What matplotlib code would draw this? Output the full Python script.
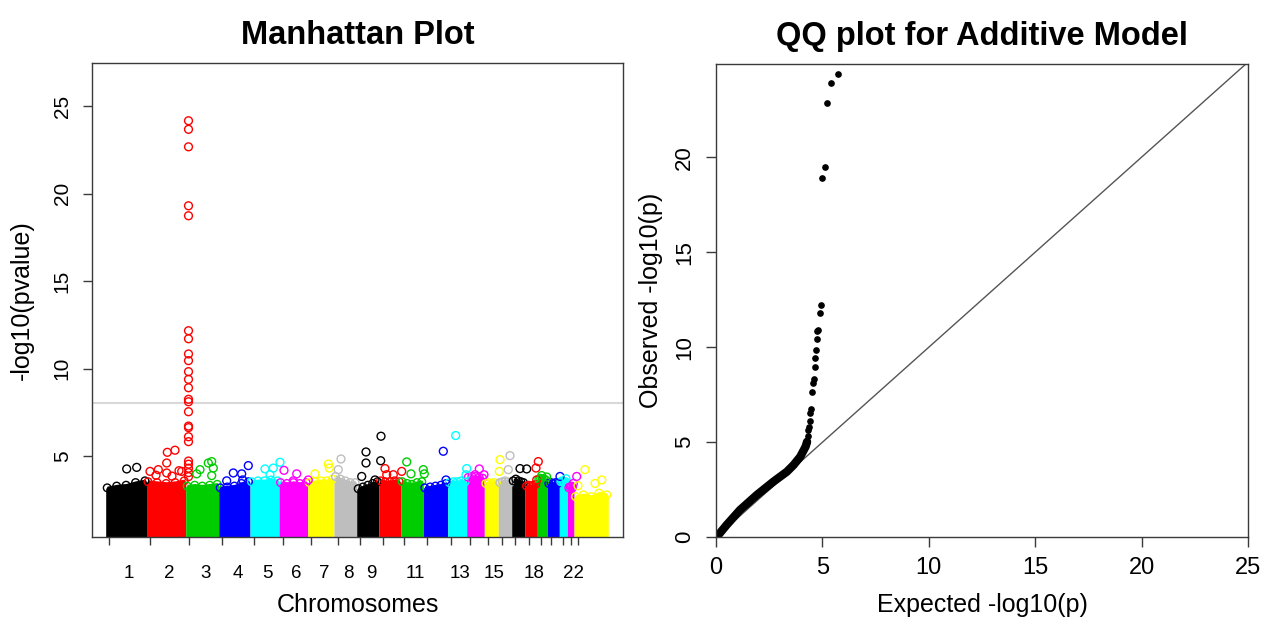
import numpy as np
import matplotlib
matplotlib.use("Agg")
import matplotlib.pyplot as plt

plt.rcParams['font.family'] = ['Liberation Sans', 'DejaVu Sans']

# ---- Manhattan data ----
chrom_names = [str(i) for i in range(1, 24)]
chrom_len = [40.8, 39.2, 33.0, 31.3, 29.0, 28.7, 26.3, 22.7, 22.3, 21.7, 22.6, 24.4,
             19.0, 17.6, 14.0, 13.4, 13.3, 12.3, 10.0, 12.0, 8.0, 6.7, 34.3]
lead_gap = 13.7
x_end = 531.0
shown_labels = ['1', '2', '3', '4', '5', '6', '7', '8', '9', '11', '13', '15', '18', '22']
r_palette = ['black', '#FF0000', '#00CD00', '#0000FF', '#00FFFF', '#FF00FF', '#FFFF00', '#BEBEBE']

# top of the dense band of points, sampled across each chromosome
band_top = [
    [3.28, 3.38, 3.43, 3.58, 3.68], [3.63, 3.58, 3.53, 3.58, 3.68], [3.38, 3.43, 3.38, 3.43, 3.48],
    [3.28, 3.33, 3.38, 3.53, 3.63], [3.63, 3.68, 3.68, 3.73, 3.68], [3.58, 3.53, 3.58, 3.53, 3.58],
    [3.58, 3.63, 3.68, 3.68, 3.78], [3.93, 3.78, 3.68, 3.58, 3.58], [3.23, 3.33, 3.43, 3.53, 3.63],
    [3.68, 3.63, 3.63, 3.68, 3.63], [3.63, 3.53, 3.48, 3.58, 3.63], [3.28, 3.33, 3.38, 3.43, 3.53],
    [3.58, 3.63, 3.63, 3.68, 3.63], [3.88, 3.93, 3.93, 3.88, 3.83], [3.53, 3.58, 3.53, 3.58, 3.53],
    [3.58, 3.63, 3.68, 3.63, 3.58], [3.68, 3.78, 3.68, 3.63, 3.58], [3.38, 3.43, 3.38, 3.43, 3.48],
    [3.78, 3.83, 3.78, 3.78, 3.73], [3.53, 3.58, 3.53, 3.58, 3.53], [3.63, 3.68, 3.63, 3.58, 3.63],
    [3.28, 3.38, 3.33, 3.38, 3.28], [2.78, 2.88, 2.78, 2.98, 2.88],
]

# isolated points above the band: chromosome, position on the genome axis, -log10(p)
out_chr = [1, 1,
           2, 2, 2, 2, 2, 2, 2, 2, 2, 2,
           2, 2, 2, 2, 2, 2, 2, 2, 2, 2, 2, 2, 2, 2, 2, 2, 2, 2, 2, 2, 2, 2, 2, 2,
           3, 3, 3, 3, 3, 3, 4, 4, 4, 4, 4, 5, 5, 5, 5, 6, 6, 6, 6, 7, 7, 7, 8, 8,
           9, 9, 9, 9, 9, 9, 10, 10, 10, 10, 11, 11, 11, 11, 12, 12, 13, 13, 13,
           14, 14, 14, 15, 15, 16, 16, 17, 17, 18, 18, 18, 19, 19, 20, 21, 22, 22,
           23, 23, 23, 23]
out_pos = [34.7, 44.7,
           58.0, 66.3, 74.7, 75.3, 83.0, 74.7, 87.0, 89.7, 64.0, 80.0,
           96.5, 96.5, 96.5, 96.5, 96.5, 96.5, 96.5, 96.5, 96.5, 96.5, 96.5, 96.5,
           96.5, 96.5, 96.5, 96.5, 96.5, 96.5, 96.5, 96.5, 96.5, 96.5, 96.5, 96.5,
           104.7, 108.0, 116.3, 119.7, 121.3, 119.7, 134.7, 141.3, 149.7, 156.3, 150.7,
           173.0, 181.3, 188.0, 178.0, 192.0, 204.7, 216.3, 201.3, 223.0, 236.3, 237.3,
           249.0, 246.3,
           269.7, 274.0, 274.0, 289.0, 288.7, 283.0, 293.0, 301.3, 309.7, 294.7,
           314.7, 319.0, 331.3, 332.3, 351.3, 354.0, 363.7, 374.7, 374.0,
           387.3, 392.0, 383.0, 408.0, 407.3, 418.0, 416.3, 428.0, 434.7,
           446.3, 444.0, 444.7, 449.7, 454.7, 468.0, 474.0, 484.7, 481.3,
           493.0, 509.7, 503.0, 486.0]
out_val = [4.26, 4.35,
           4.12, 4.22, 4.60, 5.21, 5.33, 4.03, 4.16, 4.12, 3.90, 3.85,
           24.16, 23.67, 22.67, 19.30, 18.73, 12.16, 11.70, 10.83, 10.45, 9.82, 9.38, 8.90,
           8.24, 8.10, 7.53, 6.71, 6.62, 6.10, 5.82, 4.71, 4.53, 4.30, 4.05, 3.82,
           3.98, 4.22, 4.60, 4.68, 4.31, 3.88, 3.58, 4.03, 3.98, 4.45, 3.63,
           4.26, 4.31, 4.64, 3.93, 4.18, 3.98, 3.63, 3.58, 3.98, 4.54, 4.31,
           4.83, 4.22,
           3.83, 4.60, 5.23, 6.13, 4.73, 3.63, 4.28, 3.93, 4.12, 3.93,
           4.66, 3.98, 4.22, 3.98, 5.27, 3.63, 6.17, 4.28, 3.93,
           4.26, 3.93, 3.93, 4.79, 4.12, 5.02, 4.22, 4.28, 4.26,
           4.68, 4.31, 3.63, 3.88, 3.80, 3.83, 3.70, 3.83, 3.43,
           4.22, 3.63, 3.43, 3.30]
threshold = 8.0

# ---- QQ data ----
qq_dense_exp = [0.0, 0.11, 0.50, 1.13, 1.92, 2.70, 3.33, 3.65, 3.96, 4.21, 4.28]
qq_dense_obs = [0.0, 0.12, 0.65, 1.44, 2.23, 2.93, 3.45, 3.81, 4.24, 4.77, 5.03]
qq_exp = [5.72, 5.41, 5.22, 5.11, 5.00, 4.92, 4.88, 4.78, 4.76, 4.75, 4.72, 4.67, 4.64,
          4.59, 4.56, 4.51, 4.47, 4.43, 4.40, 4.37, 4.34, 4.31, 4.28]
qq_obs = [24.38, 23.89, 22.87, 19.47, 18.89, 12.23, 11.79, 10.91, 10.86, 10.45, 9.86, 9.42,
          8.98, 8.32, 8.14, 7.66, 6.74, 6.56, 6.14, 5.82, 5.65, 5.33, 5.03]

W, H = 1267, 621
fig = plt.figure(figsize=(W / 100, H / 100), dpi=100)
ax1 = fig.add_axes([92 / W, 1 - 537 / H, 531 / W, 474 / H])
ax2 = fig.add_axes([716 / W, 1 - 537.3 / H, 532 / W, 473.3 / H])

edge = '#3a3a3a'

# Manhattan plot
starts = lead_gap + np.concatenate([[0], np.cumsum(chrom_len)[:-1]])
ends = starts + np.array(chrom_len)
for i, (s, e) in enumerate(zip(starts, ends)):
    col = r_palette[i % 8]
    xs = np.linspace(s + 1.5, e - 1.5, len(band_top[i]))
    ax1.fill_between(np.r_[s, xs, e], 0, np.r_[band_top[i][0] - 0.15, band_top[i], band_top[i][-1] - 0.15],
                     color=col, lw=0, zorder=2)
    ax1.scatter(xs, np.array(band_top[i]) - 0.1, s=30, facecolors='none', edgecolors=col,
                linewidths=1.0, zorder=3)

out_cols = [r_palette[(c - 1) % 8] for c in out_chr]
ax1.scatter(out_pos, out_val, s=32, facecolors='none', edgecolors=out_cols,
            linewidths=1.0, zorder=3)
ax1.axhline(threshold, color='#d8d8d8', lw=1.5, zorder=1)

ax1.set_xlim(0, x_end)
ax1.set_ylim(0.37, 27.46)
ax1.set_yticks([5, 10, 15, 20, 25])
ax1.set_yticklabels(['5', '10', '15', '20', '25'], rotation=90, va='center', fontsize=15)
ax1.set_xticks(starts + 3.5)
ax1.set_xticklabels([])
lab_pos = [(starts[int(n) - 1] + ends[int(n) - 1]) / 2 + 3 for n in shown_labels]
ax1.set_xticks(lab_pos, minor=True)
ax1.set_xticklabels(shown_labels, minor=True, fontsize=13.5)
ax1.tick_params(axis='x', which='major', length=6, width=1, color=edge, direction='out')
ax1.tick_params(axis='x', which='minor', length=0, pad=20)
ax1.tick_params(axis='y', length=6.5, width=1, color=edge, pad=8)
for sp in ax1.spines.values():
    sp.set_color(edge)
    sp.set_linewidth(1)
ax1.set_xlabel('Chromosomes', fontsize=18, labelpad=8)
ax1.set_ylabel('-log10(pvalue)', fontsize=18, labelpad=14)
ax1.set_title('Manhattan Plot', fontsize=23.5, fontweight='bold', pad=14)

# QQ plot
ax2.plot([0, 25], [0, 25], color='#555555', lw=1, zorder=1)
ax2.plot(qq_dense_exp, qq_dense_obs, color='black', lw=6, solid_capstyle='round', zorder=2)
ax2.plot(qq_exp, qq_obs, 'o', color='black', ms=3.8, zorder=3)
ax2.set_xlim(0, 25)
ax2.set_ylim(0, 24.9)
ax2.set_xticks([0, 5, 10, 15, 20, 25])
ax2.set_yticks([0, 5, 10, 15, 20])
ax2.set_yticklabels(['0', '5', '10', '15', '20'], rotation=90, va='center', fontsize=16)
ax2.tick_params(axis='x', labelsize=17, length=7, width=1, color=edge, pad=7)
ax2.tick_params(axis='y', length=7, width=1, color=edge, pad=8)
for sp in ax2.spines.values():
    sp.set_color(edge)
    sp.set_linewidth(1)
ax2.set_xlabel('Expected -log10(p)', fontsize=18, labelpad=10)
ax2.set_ylabel('Observed -log10(p)', fontsize=18, labelpad=8)
ax2.set_title('QQ plot for Additive Model', fontsize=23.5, fontweight='bold', pad=14)

fig.savefig('out.png', dpi=100)
